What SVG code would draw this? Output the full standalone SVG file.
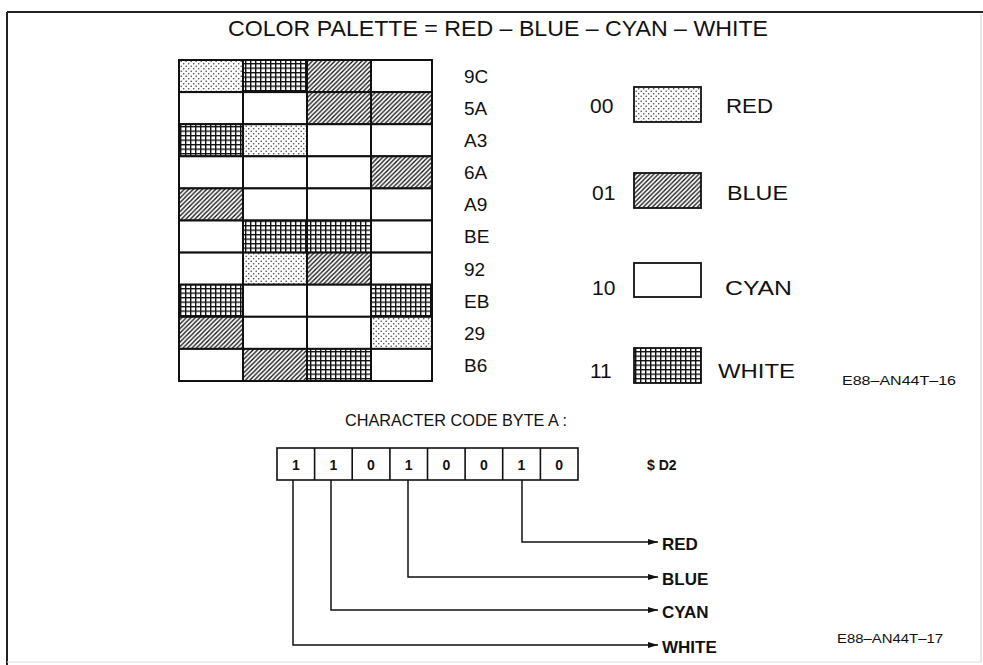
<svg xmlns="http://www.w3.org/2000/svg" width="983" height="665" viewBox="0 0 983 665">
<defs>
<pattern id="dots" patternUnits="userSpaceOnUse" width="5" height="5">
<rect width="5" height="5" fill="#fff"/>
<circle cx="1.2" cy="1.2" r="0.8" fill="#444"/>
<circle cx="3.7" cy="3.7" r="0.8" fill="#444"/>
</pattern>
<pattern id="hatch" patternUnits="userSpaceOnUse" width="4.5" height="4.5">
<rect width="4.5" height="4.5" fill="#fff"/>
<path d="M-1,1 L1,-1 M0,4.5 L4.5,0 M3.5,5.5 L5.5,3.5" stroke="#111" stroke-width="1.3"/>
</pattern>
<pattern id="cross" patternUnits="userSpaceOnUse" width="5" height="4.5">
<rect width="5" height="4.5" fill="#fff"/>
<path d="M0.7,0 V4.5 M0,0.6 H5" stroke="#111" stroke-width="1.4"/>
</pattern>
<marker id="arr" viewBox="0 0 10 6" refX="10" refY="3" markerWidth="10" markerHeight="6" markerUnits="userSpaceOnUse" orient="auto">
<path d="M0,0 L10,3 L0,6 z" fill="#111"/>
</marker>
</defs>
<style>
text{font-family:"Liberation Sans",Arial,sans-serif;fill:#111}
.cell{stroke:#111;stroke-width:2}
.lab{font-size:19px}
.leg{font-size:21px}
.bit{font-size:14px;font-weight:bold;text-anchor:middle}
.out{font-size:17px;font-weight:bold}
.ref{font-size:13px}
.conn{fill:none;stroke:#111;stroke-width:1.5}
.box{stroke:#111;stroke-width:1.8}
</style>
<rect width="983" height="665" fill="#fff"/>
<g id="frame">
<line x1="7" y1="12" x2="983" y2="12" stroke="#222" stroke-width="2"/>
<line x1="7" y1="12" x2="7" y2="665" stroke="#222" stroke-width="2"/>
<line x1="981" y1="14" x2="981" y2="662" stroke="#ccc" stroke-width="1"/>
<line x1="7" y1="662" x2="981" y2="662" stroke="#ddd" stroke-width="1"/>
</g>
<g id="title">
<text x="228" y="36" font-size="22" textLength="540" lengthAdjust="spacingAndGlyphs">COLOR PALETTE = RED – BLUE – CYAN – WHITE</text>
</g>
<g id="grid">
<rect class="cell" x="179" y="60" width="64" height="32.1" fill="url(#dots)"/>
<rect class="cell" x="243" y="60" width="64" height="32.1" fill="url(#cross)"/>
<rect class="cell" x="307" y="60" width="64" height="32.1" fill="url(#hatch)"/>
<rect class="cell" x="371" y="60" width="61" height="32.1" fill="#fff"/>
<rect class="cell" x="179" y="92.1" width="64" height="32.1" fill="#fff"/>
<rect class="cell" x="243" y="92.1" width="64" height="32.1" fill="#fff"/>
<rect class="cell" x="307" y="92.1" width="64" height="32.1" fill="url(#hatch)"/>
<rect class="cell" x="371" y="92.1" width="61" height="32.1" fill="url(#hatch)"/>
<rect class="cell" x="179" y="124.2" width="64" height="32.1" fill="url(#cross)"/>
<rect class="cell" x="243" y="124.2" width="64" height="32.1" fill="url(#dots)"/>
<rect class="cell" x="307" y="124.2" width="64" height="32.1" fill="#fff"/>
<rect class="cell" x="371" y="124.2" width="61" height="32.1" fill="#fff"/>
<rect class="cell" x="179" y="156.3" width="64" height="32.1" fill="#fff"/>
<rect class="cell" x="243" y="156.3" width="64" height="32.1" fill="#fff"/>
<rect class="cell" x="307" y="156.3" width="64" height="32.1" fill="#fff"/>
<rect class="cell" x="371" y="156.3" width="61" height="32.1" fill="url(#hatch)"/>
<rect class="cell" x="179" y="188.4" width="64" height="32.1" fill="url(#hatch)"/>
<rect class="cell" x="243" y="188.4" width="64" height="32.1" fill="#fff"/>
<rect class="cell" x="307" y="188.4" width="64" height="32.1" fill="#fff"/>
<rect class="cell" x="371" y="188.4" width="61" height="32.1" fill="#fff"/>
<rect class="cell" x="179" y="220.5" width="64" height="32.1" fill="#fff"/>
<rect class="cell" x="243" y="220.5" width="64" height="32.1" fill="url(#cross)"/>
<rect class="cell" x="307" y="220.5" width="64" height="32.1" fill="url(#cross)"/>
<rect class="cell" x="371" y="220.5" width="61" height="32.1" fill="#fff"/>
<rect class="cell" x="179" y="252.6" width="64" height="32.1" fill="#fff"/>
<rect class="cell" x="243" y="252.6" width="64" height="32.1" fill="url(#dots)"/>
<rect class="cell" x="307" y="252.6" width="64" height="32.1" fill="url(#hatch)"/>
<rect class="cell" x="371" y="252.6" width="61" height="32.1" fill="#fff"/>
<rect class="cell" x="179" y="284.7" width="64" height="32.1" fill="url(#cross)"/>
<rect class="cell" x="243" y="284.7" width="64" height="32.1" fill="#fff"/>
<rect class="cell" x="307" y="284.7" width="64" height="32.1" fill="#fff"/>
<rect class="cell" x="371" y="284.7" width="61" height="32.1" fill="url(#cross)"/>
<rect class="cell" x="179" y="316.8" width="64" height="32.1" fill="url(#hatch)"/>
<rect class="cell" x="243" y="316.8" width="64" height="32.1" fill="#fff"/>
<rect class="cell" x="307" y="316.8" width="64" height="32.1" fill="#fff"/>
<rect class="cell" x="371" y="316.8" width="61" height="32.1" fill="url(#dots)"/>
<rect class="cell" x="179" y="348.9" width="64" height="32.1" fill="#fff"/>
<rect class="cell" x="243" y="348.9" width="64" height="32.1" fill="url(#hatch)"/>
<rect class="cell" x="307" y="348.9" width="64" height="32.1" fill="url(#cross)"/>
<rect class="cell" x="371" y="348.9" width="61" height="32.1" fill="#fff"/>
</g>
<g id="row-labels" class="lab">
<text x="464" y="83">9C</text>
<text x="464" y="115">5A</text>
<text x="464" y="147">A3</text>
<text x="464" y="179">6A</text>
<text x="464" y="211">A9</text>
<text x="464" y="243">BE</text>
<text x="464" y="276">92</text>
<text x="464" y="308">EB</text>
<text x="464" y="340">29</text>
<text x="464" y="372">B6</text>
</g>
<g id="legend-red">
<text class="leg" x="590" y="113">00</text>
<rect class="box" x="634" y="87" width="67" height="35" fill="url(#dots)"/>
<text class="leg" x="726" y="113" textLength="47" lengthAdjust="spacingAndGlyphs">RED</text>
</g>
<g id="legend-blue">
<text class="leg" x="592" y="200">01</text>
<rect class="box" x="634" y="173" width="67" height="35" fill="url(#hatch)"/>
<text class="leg" x="727" y="200" textLength="61" lengthAdjust="spacingAndGlyphs">BLUE</text>
</g>
<g id="legend-cyan">
<text class="leg" x="592" y="295">10</text>
<rect class="box" x="634" y="263" width="67" height="34" fill="#fff"/>
<text class="leg" x="725" y="295" textLength="67" lengthAdjust="spacingAndGlyphs">CYAN</text>
</g>
<g id="legend-white">
<text class="leg" x="590" y="378">11</text>
<rect class="box" x="634" y="348" width="67" height="35" fill="url(#cross)"/>
<text class="leg" x="718" y="378" textLength="77" lengthAdjust="spacingAndGlyphs">WHITE</text>
</g>
<g id="fig16">
<text class="ref" x="842" y="385" textLength="114" lengthAdjust="spacingAndGlyphs">E88–AN44T–16</text>
</g>
<g id="byte-title">
<text x="345" y="426" font-size="17" textLength="222" lengthAdjust="spacingAndGlyphs">CHARACTER CODE BYTE A :</text>
</g>
<g id="byte">
<rect x="277" y="448" width="301" height="32" fill="#fff" stroke="#111" stroke-width="1.6"/>
<path d="M314.6,448 V480 M352.2,448 V480 M389.9,448 V480 M427.5,448 V480 M465.1,448 V480 M502.7,448 V480 M540.4,448 V480" stroke="#111" stroke-width="1.6"/>
<text class="bit" x="295.8" y="470">1</text>
<text class="bit" x="333.4" y="470">1</text>
<text class="bit" x="371" y="470">0</text>
<text class="bit" x="408.7" y="470">1</text>
<text class="bit" x="446.3" y="470">0</text>
<text class="bit" x="483.9" y="470">0</text>
<text class="bit" x="521.5" y="470">1</text>
<text class="bit" x="559.2" y="470">0</text>
<text x="647" y="470" font-size="14" font-weight="bold">$ D2</text>
</g>
<g id="connectors">
<path class="conn" d="M522,480 V542 H658" marker-end="url(#arr)"/>
<path class="conn" d="M408,480 V577 H658" marker-end="url(#arr)"/>
<path class="conn" d="M331,480 V610 H658" marker-end="url(#arr)"/>
<path class="conn" d="M293,480 V645 H658" marker-end="url(#arr)"/>
</g>
<g id="outputs" class="out">
<text x="662" y="550">RED</text>
<text x="662" y="585">BLUE</text>
<text x="662" y="618">CYAN</text>
<text x="662" y="653">WHITE</text>
</g>
<g id="fig17">
<text class="ref" x="837" y="643" textLength="106" lengthAdjust="spacingAndGlyphs">E88–AN44T–17</text>
</g>
</svg>
